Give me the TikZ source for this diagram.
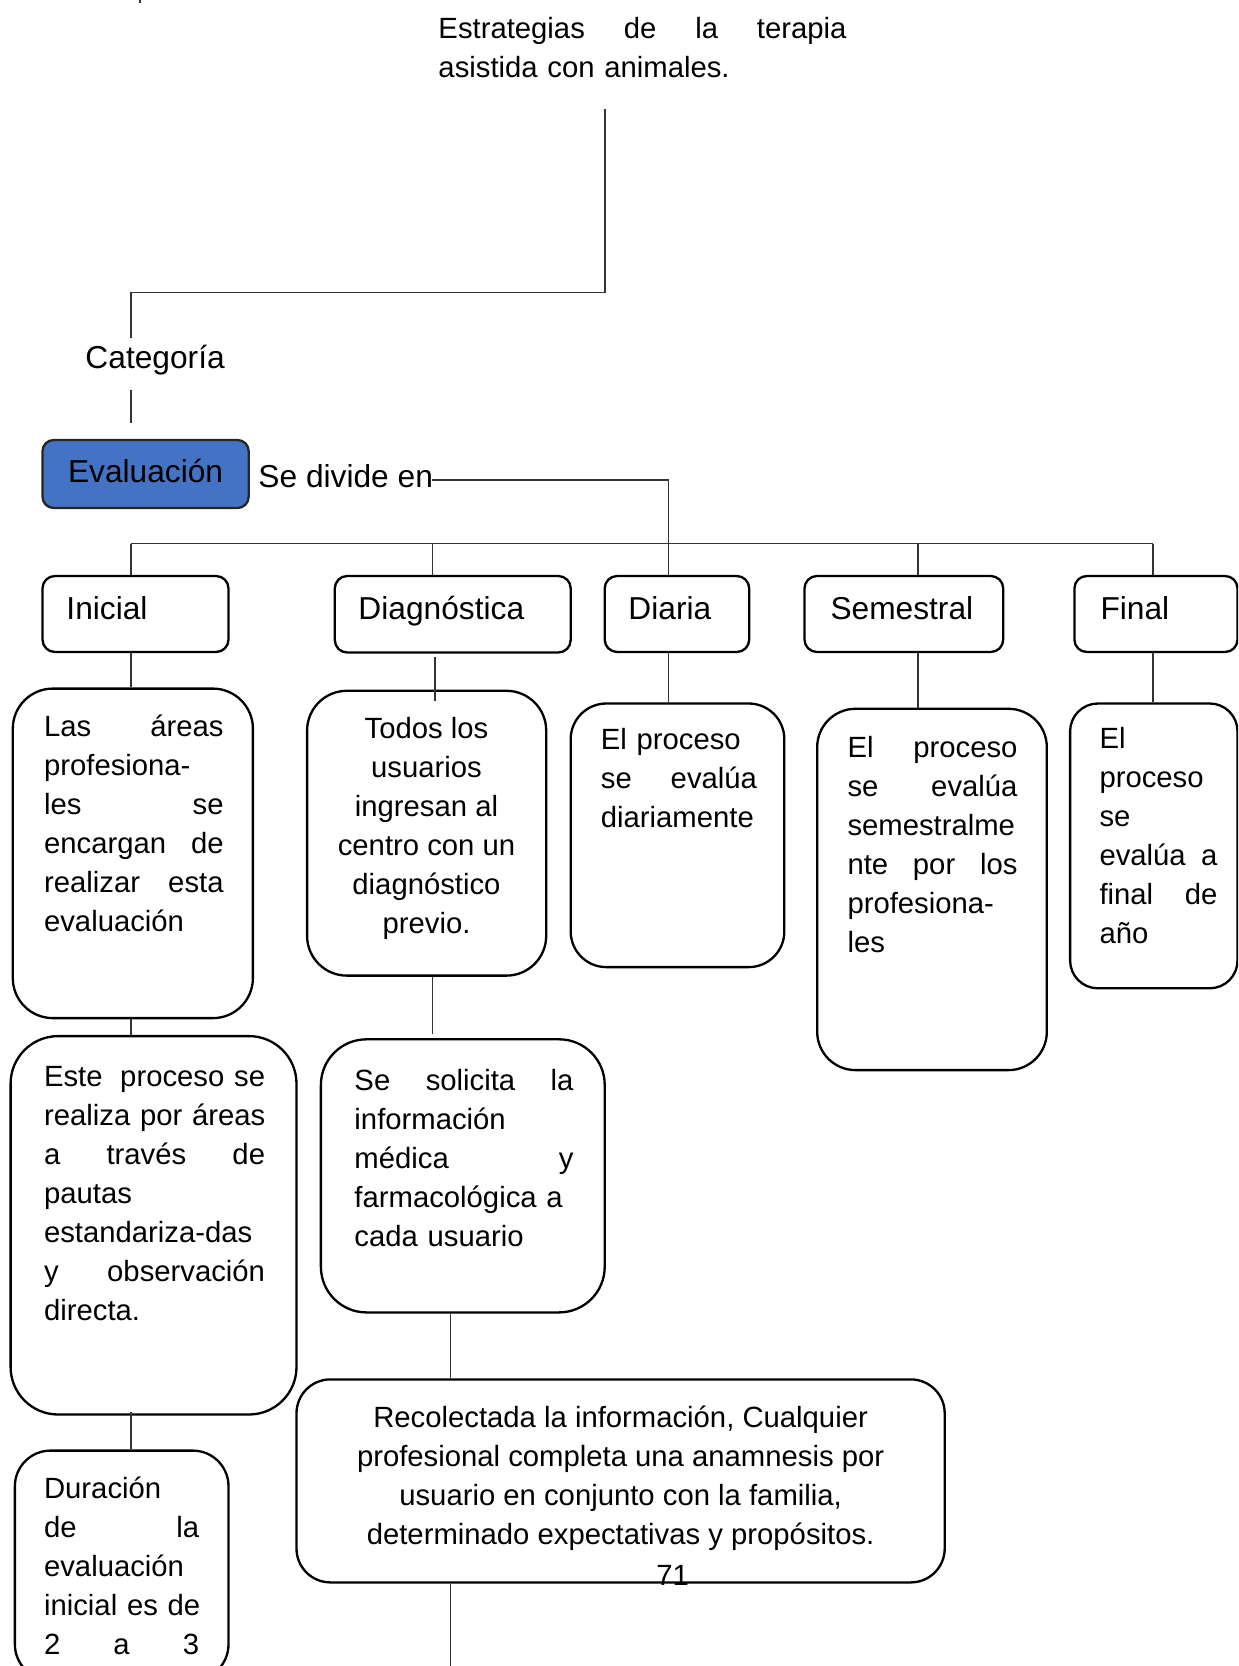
\documentclass[tikz,border=0pt]{standalone}
\usepackage{fontspec}
\setmainfont{Liberation Sans}
\usetikzlibrary{fit}
\definecolor{evalblue}{HTML}{4472C4}
\newcommand{\diagBody}{\fontsize{12pt}{16pt}\selectfont}
\newcommand{\diagHead}{\fontsize{13pt}{16pt}\selectfont}
\begin{document}
\begin{tikzpicture}[x=0.41pt,y=-0.41pt,
  box/.style={draw=black, line width=0.95pt, inner sep=0pt},
  link/.style={draw=black!80, line width=0.5pt},
  body/.style={anchor=north west, inner sep=0pt, yshift=11.2pt, font=\diagBody, align=left},
  bodyc/.style={anchor=north, inner sep=0pt, yshift=11.2pt, font=\diagBody, align=center},
  head/.style={anchor=base west, inner sep=0pt, font=\diagHead},
]
\useasboundingbox (0,0) rectangle (1238,1666);
\clip (0,0) rectangle (1238,1666);

% ---- title and category ----
\node[body, text width=167.3pt] (title) at (438,38)
  {\strut Estrategias\hfill de\hfill la\hfill terapia\\ \mbox{asistida con animales.}};
\node[head] (cat) at (85,369) {Categoría};

% ---- evaluation box ----
\node[box, fill=evalblue, draw=black!85, rounded corners=4.6pt,
      fit={(42.5,440) (248.7,508)}] (evalbox) {};
\node[font=\diagHead, anchor=base, inner sep=0pt] (evaltxt) at (145.6,483) {Evaluación};
\node[head] (divide) at (258,488) {Se divide en};

% ---- first row: kinds of evaluation ----
\node[box, rounded corners=5.1pt, fit={(42.5,576) (228.5,652)}] (ini) {};
\node[box, rounded corners=5.1pt, fit={(334.8,576) (570.7,652.5)}] (diag) {};
\node[box, rounded corners=5.1pt, fit={(604.7,576) (749.2,652)}] (dia) {};
\node[box, rounded corners=5.1pt, fit={(804.5,576) (1003.2,652)}] (sem) {};
\node[box, rounded corners=5.1pt, fit={(1074.4,576) (1237.5,652)}] (fin) {};
\node[head] (init) at (66,619) {Inicial};
\node[head] (diagt) at (358,619) {Diagnóstica};
\node[head] (diat) at (628,619) {Diaria};
\node[head] (semt) at (830,619) {Semestral};
\node[head] (fint) at (1100,619) {Final};

% ---- second row: descriptions ----
\node[box, rounded corners=16.4pt, fit={(12.8,688.6) (252.9,1018.1)}] (inid) {};
\node[box, rounded corners=16.3pt, fit={(307.1,690.8) (546.2,975.6)}] (diagd) {};
\node[box, rounded corners=14.6pt, fit={(570.7,703.5) (784.3,967.1)}] (diad) {};
\node[box, rounded corners=15.7pt, fit={(817.2,708.8) (1046.8,1070.1)}] (semd) {};
\node[box, rounded corners=11.4pt, fit={(1070.1,703.5) (1237.5,988.3)}] (find) {};

\node[body, text width=73.6pt] (inidt) at (43.6,736)
  {\strut Las\hfill áreas\\ profesiona-\\ les\hfill se\\ encargan\hfill de\\ realizar\hfill esta\\ evaluación};
\node[bodyc] (diagdt) at (426.5,738)
  {\strut Todos los\\ usuarios\\ ingresan al\\ centro con un\\ diagnóstico\\ previo.};
\node[body, text width=64pt] (diadt) at (600.4,749)
  {\strut \mbox{El proceso}\\ se\hfill evalúa\\ diariamente};
\node[body, text width=69.7pt] (semdt) at (847,757)
  {\strut El\hfill proceso\\ se\hfill evalúa\\ semestralme\\ nte\hfill por\hfill los\\ profesiona-\\ les};
\node[body, text width=48.4pt] (findt) at (1099,748)
  {\strut El\\ proceso\\ se\\ evalúa\hfill a\\ final\hfill de\\ año};

% ---- third row and below ----
\node[box, rounded corners=19.5pt, fit={(10.6,1036.1) (296.5,1414.5)}] (este) {};
\node[box, rounded corners=18.7pt, fit={(320.9,1039.3) (604.7,1312.4)}] (sol) {};
\node[box, rounded corners=13.9pt, fit={(296.5,1379.4) (944.7,1582.4)}] (rec) {};
\node[box, rounded corners=14.6pt, fit={(14.9,1450.6) (228.5,1680)}] (dur) {};

\node[body, text width=90.6pt] (estet) at (43.6,1086)
  {\strut Este\hfill \mbox{proceso se}\\ \mbox{realiza por áreas}\\ a\hfill través\hfill de\\ pautas\\ \mbox{estandariza-das}\\ y\hfill observación\\ directa.};
\node[body, text width=89.8pt] (solt) at (354,1090)
  {\strut Se\hfill solicita\hfill la\\ información\\ médica\hfill y\\ \mbox{farmacológica a}\\ \mbox{cada usuario}};
\node[bodyc] (rect) at (620.6,1427)
  {\strut Recolectada la información, Cualquier\\ profesional completa una anamnesis por\\ usuario en conjunto con la familia,\\ determinado expectativas y propósitos.};
\node[body, text width=63.6pt] (durt) at (43.6,1498)
  {\strut Duración\\ de\hfill la\\ evaluación\\ \mbox{inicial es de}\\ 2\hfill a\hfill 3};
\node[font=\diagBody, anchor=base, inner sep=0pt] (pagenum) at (672.7,1585) {71};

% ---- connectors ----
\coordinate (m1) at (140,0);
\coordinate (m2) at (140,3);
\draw[link] (m1) -- (m2);

\coordinate (tA) at (605,109);
\coordinate (tB) at (131,292.7);
\coordinate (tC) at (131,338);
\draw[link] (tA) |- (tB) -- (tC);

\coordinate (cA) at (131,390);
\coordinate (cB) at (131,423);
\draw[link] (cA) -- (cB);

\coordinate (dA) at (432,480);
\coordinate (hub) at (668.5,543.5);
\draw[link] (dA) -| (hub);

\coordinate (busL) at (131,543.5);
\coordinate (b2) at (432.5,543.5);
\coordinate (b4) at (918,543.5);
\coordinate (busR) at (1153,543.5);
\draw[link] (busL) -- (busR);
\draw[link] (busL) -- (busL |- ini.north);
\draw[link] (b2) -- (b2 |- diag.north);
\draw[link] (hub) -- (hub |- dia.north);
\draw[link] (b4) -- (b4 |- sem.north);
\draw[link] (busR) -- (busR |- fin.north);

\draw[link] (ini.south -| busL) -- (inid.north -| busL);
\coordinate (g1) at (435,657);
\coordinate (g2) at (435,701);
\draw[link] (g1) -- (g2);
\draw[link] (dia.south -| hub) -- (diad.north -| hub);
\draw[link] (sem.south -| b4) -- (semd.north -| b4);
\draw[link] (fin.south -| busR) -- (find.north -| busR);

\draw[link] (inid.south -| busL) -- (este.north -| busL);
\coordinate (s1) at (432.5,1034);
\draw[link] (diagd.south -| b2) -- (s1);
\coordinate (e1) at (131,1412);
\draw[link] (e1) -- (dur.north -| busL);

\coordinate (r0) at (450.6,0);
\coordinate (rEnd) at (450.6,1670);
\draw[link] (sol.south -| r0) -- (rec.north -| r0);
\draw[link] (rec.south -| r0) -- (rEnd);
\end{tikzpicture}
\end{document}
